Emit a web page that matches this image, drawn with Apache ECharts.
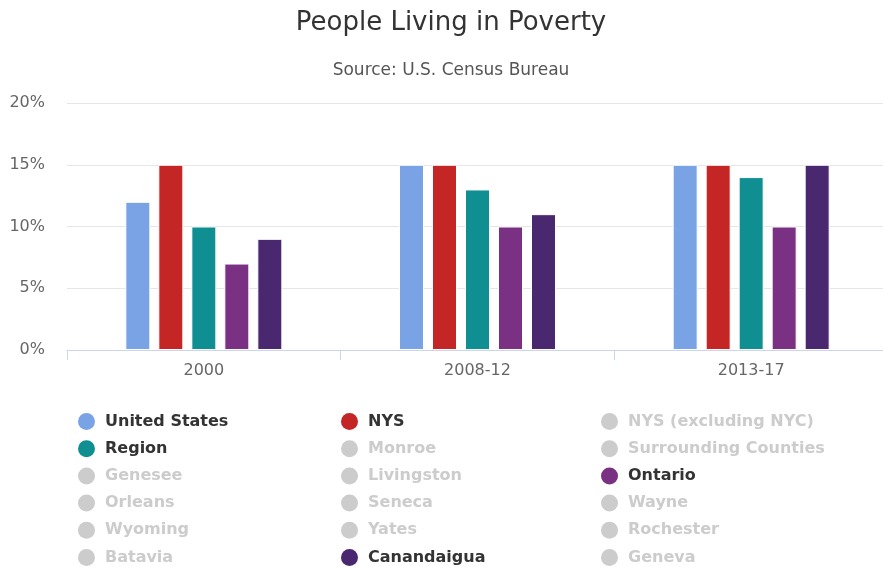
<!DOCTYPE html>
<html>
<head>
<meta charset="utf-8">
<script src="https://cdn.jsdelivr.net/npm/echarts@6/dist/echarts.min.js"></script>
<style>
  html, body { margin: 0; padding: 0; background: #fff; overflow: hidden; }
  /* the plot runs a few pixels past the right edge, as in the original */
  #chart-container { width: 888px; height: 567px; }
</style>
</head>
<body>
<div id="chart-container"></div>
<script>
const periods = ['2000', '2008-12', '2013-17']
const unitedStates = [12, 15, 15]
const nys = [15, 15, 15]
const region = [10, 13, 14]
const ontario = [7, 10, 10]
const canandaigua = [9, 11, 15]
const yTicks = [0, 5, 10, 15, 20]

// legend columns, read top-down as in the picture
const col1 = ['United States', 'Region', 'Genesee', 'Orleans', 'Wyoming', 'Batavia']
const col2 = ['NYS', 'Monroe', 'Livingston', 'Seneca', 'Yates', 'Canandaigua']
const col3 = ['NYS (excluding NYC)', 'Surrounding Counties', 'Ontario', 'Wayne', 'Rochester', 'Geneva']

// only these have visible bars; the rest are switched off in the legend
const shown = {
  'United States': {data: unitedStates, color: '#7aa3e5'},
  'NYS': {data: nys, color: '#c42525'},
  'Region': {data: region, color: '#0f8f92'},
  'Ontario': {data: ontario, color: '#7b3183'},
  'Canandaigua': {data: canandaigua, color: '#4a2870'}
}
const order = ['United States', 'NYS', 'NYS (excluding NYC)', 'Region', 'Monroe', 'Surrounding Counties',
  'Genesee', 'Livingston', 'Ontario', 'Orleans', 'Seneca', 'Wayne', 'Wyoming', 'Yates', 'Rochester',
  'Batavia', 'Canandaigua', 'Geneva']

const selected = {}
order.forEach(n => selected[n] = !!shown[n])

const series = order.map(name => ({
  name,
  type: 'bar',
  barWidth: 25,
  barGap: '32%',
  color: shown[name] ? shown[name].color : '#999',
  itemStyle: {borderColor: '#fff', borderWidth: 1},
  data: shown[name] ? shown[name].data : []
}))

const font = 'DejaVu Sans'
const legendBase = {
  orient: 'vertical',
  icon: 'circle',
  itemWidth: 17,
  itemHeight: 17,
  itemGap: 10.2,
  top: 413,
  height: 160,
  padding: 0,
  selected,
  inactiveColor: '#cccccc',
  inactiveBorderWidth: 0,
  itemStyle: {borderWidth: 0},
  textStyle: {fontFamily: font, fontSize: 16, lineHeight: 17, fontWeight: 'bold', color: '#333', padding: [0, 0, 0, 5]}
}

const dom = document.getElementById('chart-container')
const myChart = echarts.init(dom, null, {renderer: 'canvas'})

const options = {
  animation: false,
  title: {
    text: 'People Living in Poverty',
    subtext: 'Source: U.S. Census Bureau',
    left: 451,
    textAlign: 'center',
    top: 10,
    padding: 0,
    itemGap: 26,
    textStyle: {fontFamily: font, fontSize: 26, fontWeight: 'normal', color: '#333'},
    subtextStyle: {fontFamily: font, fontSize: 17, color: '#555'}
  },
  legend: [
    Object.assign({}, legendBase, {left: 78, data: col1}),
    Object.assign({}, legendBase, {left: 341, data: col2}),
    Object.assign({}, legendBase, {left: 601, data: col3})
  ],
  grid: {left: 67, right: 0, top: 103, bottom: 217, containLabel: false},
  xAxis: {
    type: 'category',
    data: periods,
    axisLine: {lineStyle: {color: '#ccd6eb'}},
    axisTick: {show: true, length: 10, lineStyle: {color: '#ccd6eb'}},
    axisLabel: {fontFamily: font, fontSize: 16, color: '#666', margin: 13}
  },
  yAxis: {
    type: 'value',
    min: yTicks[0],
    max: yTicks[yTicks.length - 1],
    interval: 5,
    axisLabel: {formatter: '{value}%', fontFamily: font, fontSize: 16, color: '#666', margin: 22},
    splitLine: {lineStyle: {color: '#e6e6e6'}}
  },
  series
}

myChart.setOption(options)
window.addEventListener('resize', myChart.resize)
</script>
</body>
</html>
